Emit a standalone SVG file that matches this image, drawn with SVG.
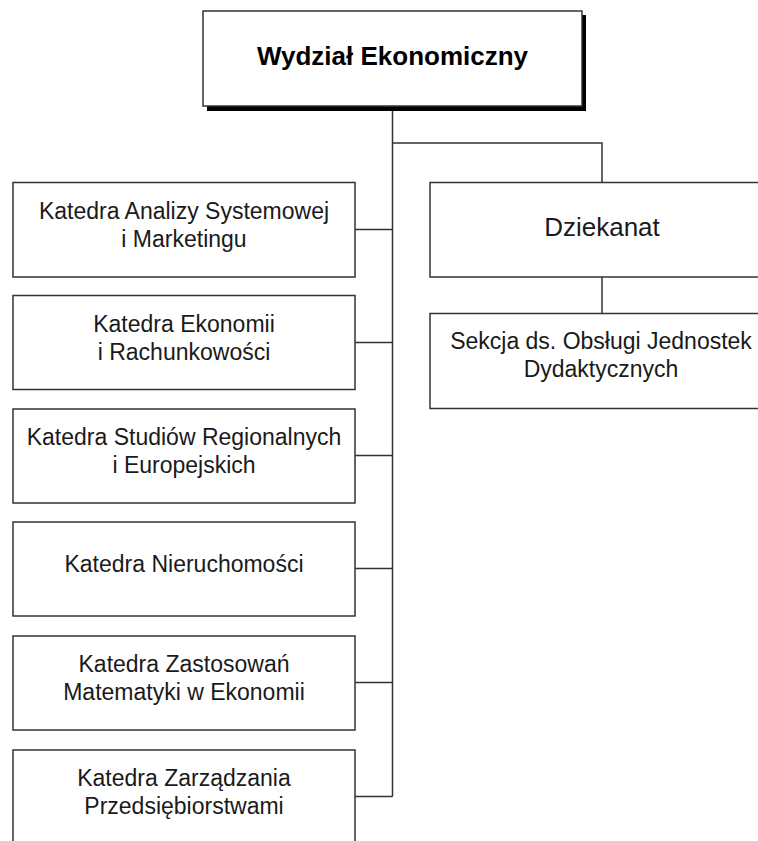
<svg xmlns="http://www.w3.org/2000/svg" width="758" height="841" viewBox="0 0 758 841">
  <style>
    .box { fill: #ffffff; stroke: #333333; stroke-width: 1.5; }
    .shadow { fill: #000000; }
    .link { fill: none; stroke: #333333; stroke-width: 1.5; }
    .lbl { font-family: "Liberation Sans", Arial, sans-serif; font-size: 23px; fill: #1a1a1a; text-anchor: middle; }
    .title { font-family: "Liberation Sans", Arial, sans-serif; font-size: 26px; font-weight: bold; fill: #000000; text-anchor: middle; }
    .big { font-size: 26px; }
  </style>
  <rect width="758" height="841" fill="#ffffff"/>

  <!-- connectors -->
  <g id="connectors">
    <path class="link" d="M392.5 106 V796.5"/>
    <path class="link" d="M392.5 143 H602 V182.5"/>
    <path class="link" d="M602 277 V313.5"/>
    <path class="link" d="M355 229.5 H392.5"/>
    <path class="link" d="M355 342.5 H392.5"/>
    <path class="link" d="M355 455.5 H392.5"/>
    <path class="link" d="M355 568.5 H392.5"/>
    <path class="link" d="M355 682.5 H392.5"/>
    <path class="link" d="M355 796.5 H392.5"/>
  </g>

  <!-- faculty -->
  <g id="wydzial">
    <rect class="shadow" x="207" y="15" width="379" height="96"/>
    <rect class="box" x="203" y="11" width="379" height="95"/>
    <text class="title" x="392.5" y="65">Wydział Ekonomiczny</text>
  </g>

  <!-- dean's office -->
  <g id="dziekanat">
    <rect class="box" x="430" y="182.5" width="344" height="94.5"/>
    <text class="lbl big" x="602" y="236">Dziekanat</text>
  </g>
  <g id="sekcja">
    <rect class="box" x="430" y="313.5" width="344" height="95"/>
    <text class="lbl" x="601" y="349">Sekcja ds. Obsługi Jednostek</text>
    <text class="lbl" x="601" y="377">Dydaktycznych</text>
  </g>

  <!-- departments -->
  <g id="katedra-analizy">
    <rect class="box" x="13" y="182.5" width="342" height="94.5"/>
    <text class="lbl" x="184" y="219">Katedra Analizy Systemowej</text>
    <text class="lbl" x="184" y="247">i Marketingu</text>
  </g>
  <g id="katedra-ekonomii">
    <rect class="box" x="13" y="295.5" width="342" height="94"/>
    <text class="lbl" x="184" y="332">Katedra Ekonomii</text>
    <text class="lbl" x="184" y="360">i Rachunkowości</text>
  </g>
  <g id="katedra-studiow">
    <rect class="box" x="13" y="409" width="342" height="94"/>
    <text class="lbl" x="184" y="445">Katedra Studiów Regionalnych</text>
    <text class="lbl" x="184" y="473">i Europejskich</text>
  </g>
  <g id="katedra-nieruchomosci">
    <rect class="box" x="13" y="522" width="342" height="94"/>
    <text class="lbl" x="184" y="572">Katedra Nieruchomości</text>
  </g>
  <g id="katedra-zastosowan">
    <rect class="box" x="13" y="636" width="342" height="94"/>
    <text class="lbl" x="184" y="672">Katedra Zastosowań</text>
    <text class="lbl" x="184" y="700">Matematyki w Ekonomii</text>
  </g>
  <g id="katedra-zarzadzania">
    <rect class="box" x="13" y="750" width="342" height="100"/>
    <text class="lbl" x="184" y="786">Katedra Zarządzania</text>
    <text class="lbl" x="184" y="814">Przedsiębiorstwami</text>
  </g>
</svg>
